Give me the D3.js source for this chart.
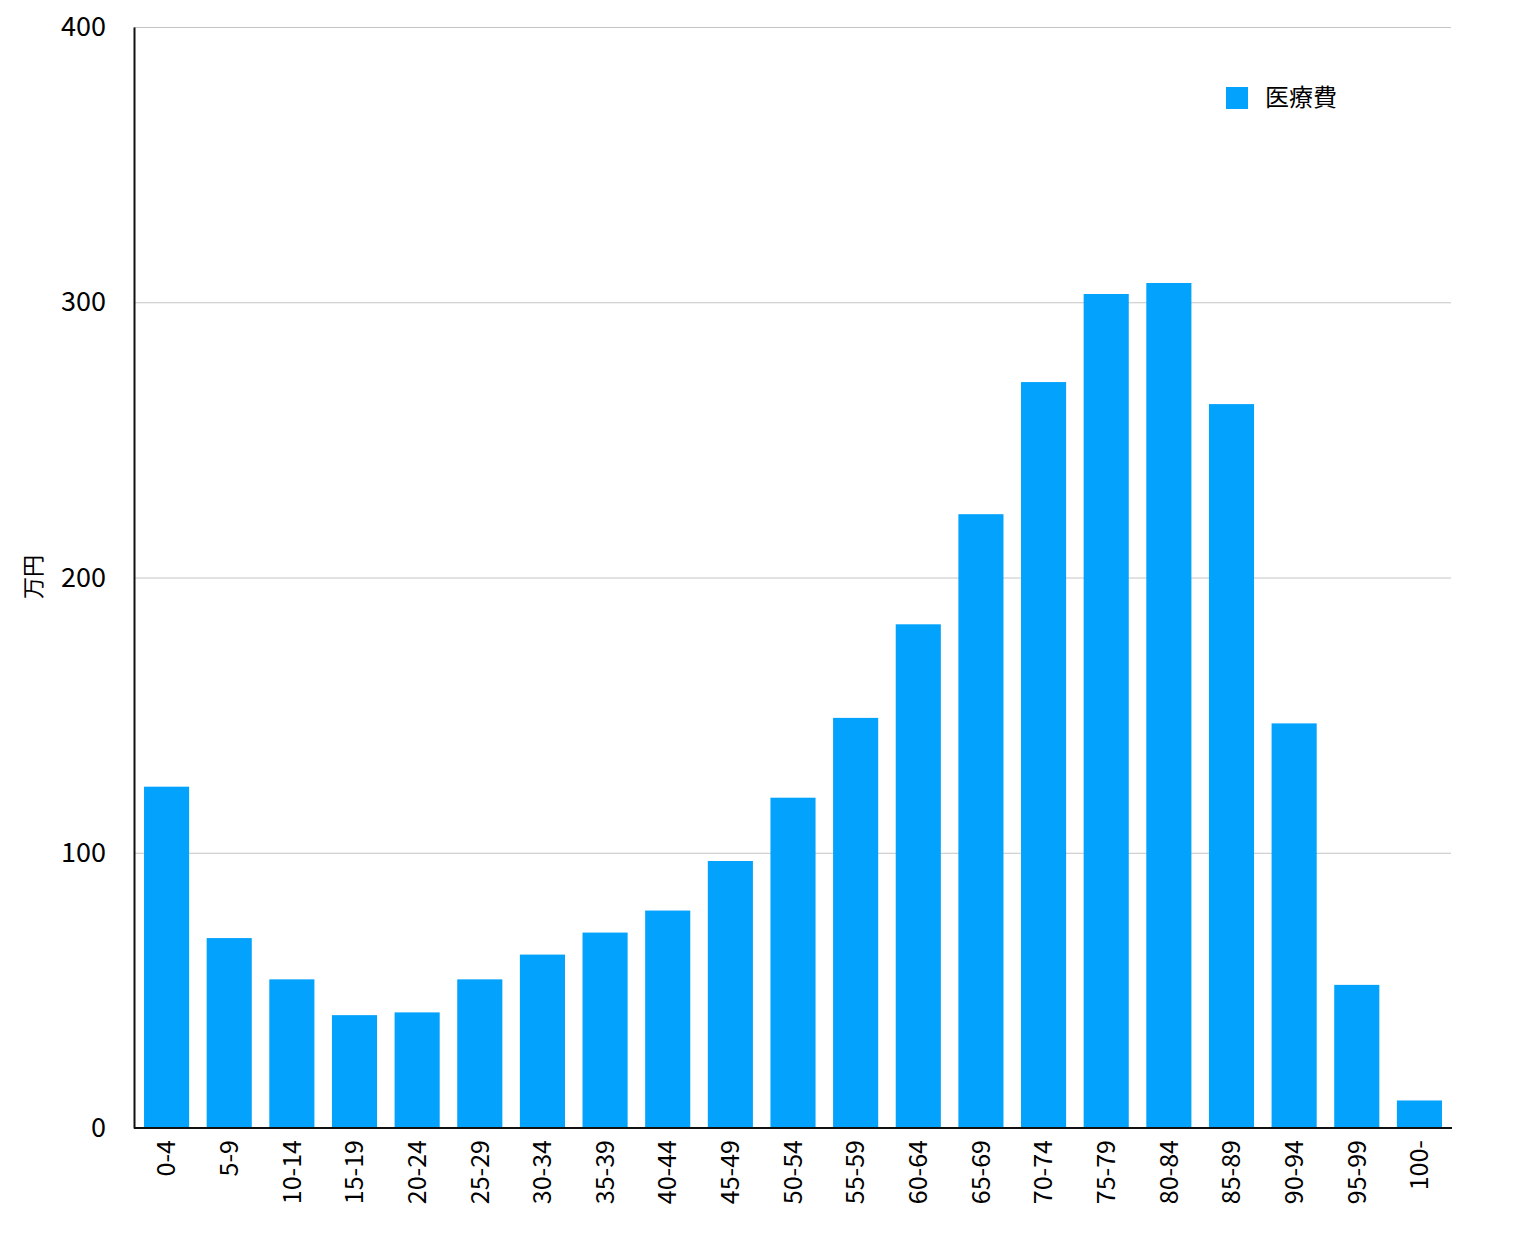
<!DOCTYPE html>
<html><head><meta charset="utf-8">
<script src="https://cdn.jsdelivr.net/npm/d3@7"></script>
<style>body{margin:0;background:#fff}svg{display:block}text{font-family:"Noto Sans CJK JP","Noto Sans",sans-serif;fill:#000}</style>
</head><body>
<script>
const categories = ["0-4","5-9","10-14","15-19","20-24","25-29","30-34","35-39","40-44","45-49","50-54","55-59","60-64","65-69","70-74","75-79","80-84","85-89","90-94","95-99","100-"];
const values = [124,69,54,41,42,54,63,71,79,97,120,149,183,223,271,303,307,263,147,52,10];
const yTicks = [0,100,200,300,400];
const seriesName = "医療費";
const yLabel = "万円";

(function(){
const W=1514,H=1238;
const mLeft=134,mRight=1452,mTop=27,mBottom=1128;
const svg=d3.select("body").append("svg").attr("width",W).attr("height",H);
const x=d3.scaleBand().domain(categories).range([mLeft,mRight]).paddingInner(0.28).paddingOuter(0.16);
const y=d3.scaleLinear().domain([0,400]).range([mBottom,mTop]);

svg.append("g").selectAll("line").data(yTicks.filter(d=>d>0)).join("line")
 .attr("x1",mLeft).attr("x2",1451).attr("y1",d=>y(d)+0.5).attr("y2",d=>y(d)+0.5)
 .attr("stroke","#c4c4c4").attr("stroke-width",1);

svg.append("g").selectAll("rect").data(values).join("rect")
 .attr("x",(d,i)=>x(categories[i])).attr("width",x.bandwidth())
 .attr("y",d=>y(d)).attr("height",d=>mBottom-y(d)).attr("fill","#03a2fd");

const ya=svg.append("g").attr("transform",`translate(${mLeft},0)`)
 .call(d3.axisLeft(y).tickValues(yTicks).tickSize(0).tickPadding(28));
ya.select(".domain").attr("stroke","#111").attr("stroke-width",2);
ya.selectAll("text").attr("font-size",27).attr("font-family",'"Noto Sans CJK JP",sans-serif');

const xa=svg.append("g").attr("transform",`translate(0,${mBottom})`)
 .call(d3.axisBottom(x).tickSize(0).tickPadding(0));
xa.select(".domain").attr("stroke","#111").attr("stroke-width",2).attr("d",`M${mLeft},0H${mRight}`);
xa.selectAll("text").attr("font-size",25).attr("font-family",'"Noto Sans CJK JP",sans-serif')
 .attr("transform","rotate(-90)").attr("text-anchor","end").attr("dy","0.35em").attr("x",-12).attr("y",0);

svg.append("text").attr("transform",`translate(33,577) rotate(-90)`).attr("text-anchor","middle")
 .attr("dy","0.35em").attr("font-size",22).text(yLabel);

const lg=svg.append("g");
lg.append("rect").attr("x",1226).attr("y",87).attr("width",22).attr("height",22).attr("fill","#03a2fd");
lg.append("text").attr("x",1265).attr("y",98).attr("dy","0.35em").attr("font-size",24).text(seriesName);
})();
</script>
</body></html>
